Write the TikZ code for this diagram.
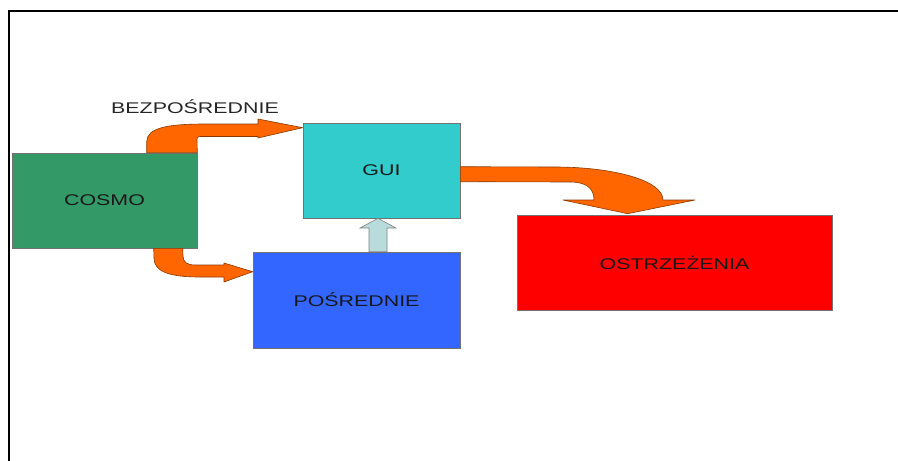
\documentclass[tikz,border=0pt]{standalone}
\usepackage{fontspec}
\setmainfont{Liberation Sans}
\usetikzlibrary{calc}
\definecolor{cosmogreen}{HTML}{339966}
\definecolor{guicyan}{HTML}{33CCCC}
\definecolor{posrblue}{HTML}{3366FF}
\definecolor{warnred}{HTML}{FF0000}
\definecolor{arroworange}{HTML}{FF6600}
\definecolor{arrowedge}{HTML}{8A3A00}
\definecolor{paleblue}{HTML}{B8DCDC}
\newcommand\wtxt[1]{\scalebox{1.38}[1]{#1}}
\tikzset{
  box/.style={draw=black!55, line width=0.6pt, inner sep=0pt, font=\fontsize{15.5}{18}\selectfont, text=black!90},
  fatarrow/.style={fill=arroworange, draw=arrowedge, line width=0.6pt, line join=round},
  uparrow/.style={fill=paleblue, draw=black!50, line width=0.6pt},
  frame/.style={line width=2.4pt}
}
\begin{document}
\begin{tikzpicture}[x=1pt, y=-1pt]
\useasboundingbox (0,0) rectangle (898,461);
% frame
\draw[frame] (9,461) -- (9,11) -- (898,11);
% boxes
\node[box, fill=cosmogreen, minimum width=185pt, minimum height=95pt] (cosmo) at (104.5,200.5) {\wtxt{COSMO}};
\node[box, fill=guicyan, minimum width=157pt, minimum height=95pt] (gui) at (381.5,170.5) {\wtxt{GUI}};
\node[box, fill=posrblue, minimum width=207pt, minimum height=96pt] (posr) at (356.5,300) {\wtxt{POŚREDNIE}};
\node[box, fill=warnred, minimum width=315pt, minimum height=95pt] (ostrz) at (674.5,262.5) {\wtxt{OSTRZEŻENIA}};
% label
\node[font=\fontsize{15.5}{18}\selectfont, anchor=base, inner sep=0pt, text=black!85] (bezlabel) at (195,113) {\wtxt{BEZPOŚREDNIE}};
% upper bent arrow COSMO -> GUI
\coordinate (ua1) at ($(cosmo.north west)+(135,0)$);
\coordinate (ua2) at (cosmo.north east);
\coordinate (uatip) at ($(gui.north west)+(0,5)$);
\draw[fatarrow] (ua1) -- ++(0,-11) .. controls ++(0,-14) and (168,124) .. (205,124) -- (258,124) -- (258,119) -- (uatip) -- (258,138) -- (258,136.5) -- (200,136.5) .. controls (198,136.5) and (197,137.5) .. (197,139) -- (ua2) -- cycle;
% lower bent arrow COSMO -> POSREDNIE
\coordinate (la1) at ($(cosmo.south west)+(142,0)$);
\coordinate (la2) at ($(cosmo.south west)+(171,0)$);
\coordinate (latip) at ($(posr.north west)+(0,20)$);
\draw[fatarrow] (la1) -- (154,258) .. controls (154,272) and (170,277) .. (200,277) -- (224,277) -- (224,282) -- (latip) -- (224,263) -- (224,265) -- (195,265) .. controls (187,265) and (183,262) .. (183,256) -- (la2) -- cycle;
% GUI -> OSTRZEZENIA curved arrow
\coordinate (ga1) at ($(gui.north east)+(0,44)$);
\coordinate (ga2) at ($(gui.north east)+(0,59)$);
\coordinate (gatip) at ($(ostrz.north west)+(111,-1)$);
\draw[fatarrow] (ga1) -- (555,167) .. controls (612,167) and (663,180) .. (663,200) -- (695,200) -- (gatip) -- (563,200) -- (594,200) .. controls (594,188) and (586,182) .. (570,182) -- (ga2) -- cycle;
% POSREDNIE -> GUI up arrow
\coordinate (pa1) at ($(posr.north)+(12.5,0)$);
\coordinate (pa2) at ($(posr.north)+(30.5,0)$);
\coordinate (patip) at ($(gui.south)+(-3.5,0)$);
\draw[uparrow] (pa1) -- (369,228) -- (360,228) -- (patip) -- (396,228) -- (387,228) -- (pa2) -- cycle;
\end{tikzpicture}
\end{document}
